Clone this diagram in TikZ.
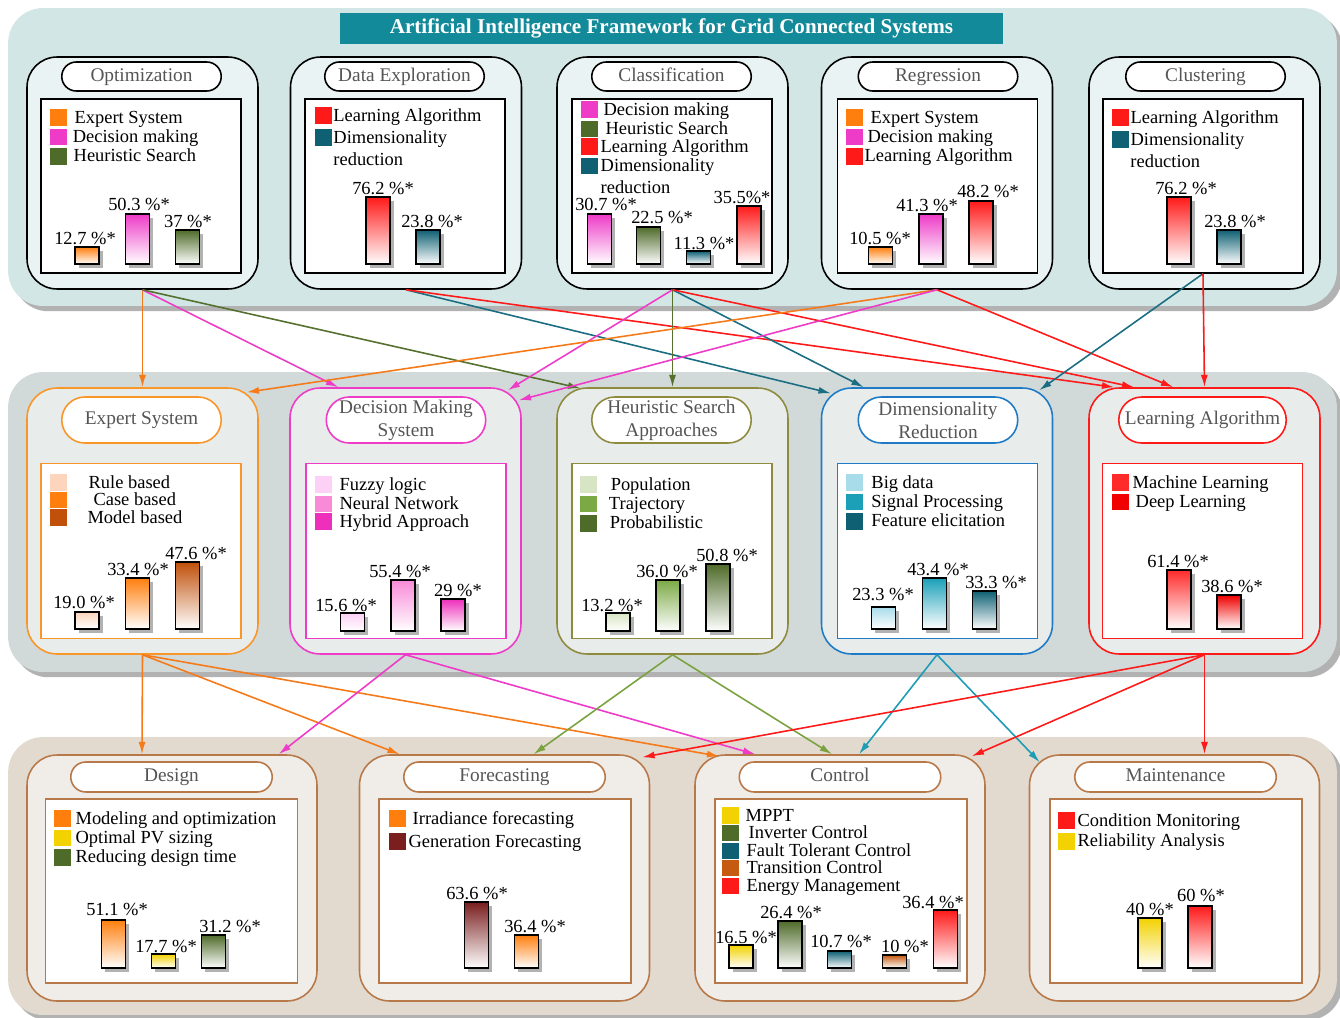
\documentclass[tikz,border=0pt]{standalone}
\usepackage{fontspec}
\setmainfont{Liberation Serif}
\usepackage{xcolor}
\usetikzlibrary{arrows.meta, shapes.misc, shadows}

% bands and boxes
\definecolor{topband}{HTML}{D3E6E6}
\definecolor{topbox}{HTML}{EAF3F3}
\definecolor{midband}{HTML}{D1DAD9}
\definecolor{midbox}{HTML}{E8ECEB}
\definecolor{botband}{HTML}{E3DACF}
\definecolor{botbox}{HTML}{F0ECE7}
\definecolor{ttlteal}{HTML}{138A99}
\definecolor{txtgray}{HTML}{555555}
\definecolor{brn}{HTML}{B8794A}
% series colours
\definecolor{orng}{HTML}{FF7F0E}
\definecolor{mgnt}{HTML}{EE3BC8}
\definecolor{hgrn}{HTML}{4F6B2A}
\definecolor{lred}{HTML}{FF1A1A}
\definecolor{dteal}{HTML}{0F6073}
\definecolor{rulec}{HTML}{FCD5BC}
\definecolor{modelc}{HTML}{C0500A}
\definecolor{fuzzyc}{HTML}{FDD0F5}
\definecolor{neuralc}{HTML}{F88AD8}
\definecolor{hybridc}{HTML}{EE2FBB}
\definecolor{popc}{HTML}{D8E5C5}
\definecolor{trajc}{HTML}{7BAA45}
\definecolor{bigc}{HTML}{A8DCEA}
\definecolor{sigc}{HTML}{1BA0B8}
\definecolor{mlc}{HTML}{FF2B2B}
\definecolor{dlc}{HTML}{F00000}
\definecolor{ylw}{HTML}{F2D200}
\definecolor{genc}{HTML}{7A1E1E}
\definecolor{transc}{HTML}{C55A11}
% borders and connectors
\definecolor{esb}{HTML}{F9962A}
\definecolor{hsb}{HTML}{8E8B3E}
\definecolor{drb}{HTML}{1F7BC6}
\definecolor{aorng}{HTML}{F57A1A}
\definecolor{aolive}{HTML}{56702E}
\definecolor{ateal}{HTML}{1B6E82}
\definecolor{agrn}{HTML}{7AA340}
\definecolor{ateal2}{HTML}{1C9DB5}

\newcommand{\swatch}[1]{\textcolor{#1}{\rule[-1.5pt]{9.3pt}{9.3pt}}}

\begin{document}
\begin{tikzpicture}[x=0.02cm, y=-0.02cm,
  font=\fontsize{10.5}{10}\selectfont,
  band/.style   = {rounded corners=0.7cm, minimum width=26.58cm,
                   drop shadow={shadow xshift=3pt, shadow yshift=-3pt, fill=black, opacity=0.3}},
  title/.style  = {fill=ttlteal, text=white, font=\bfseries\fontsize{12}{14}\selectfont,
                   minimum width=13.26cm, minimum height=0.62cm},
  grp/.style    = {draw=#1, line width=0.9pt, rounded corners=0.6cm},
  topgrp/.style = {grp=black, fill=topbox, minimum width=4.62cm, minimum height=4.64cm},
  midgrp/.style = {grp=#1, fill=midbox, minimum width=4.62cm, minimum height=5.32cm},
  botgrp/.style = {grp=brn, fill=botbox, minimum width=5.8cm, minimum height=4.92cm},
  pill/.style   = {draw=#1, line width=0.9pt, fill=white, rounded rectangle,
                   text=txtgray, align=center, inner sep=1pt,
                   font=\fontsize{11}{13}\selectfont},
  onepill/.style = {pill=#1, text height=7.6pt, text depth=2.4pt},
  inbox/.style  = {draw=#1, line width=0.8pt, fill=white},
  lgd/.style    = {anchor=north west, align=left, inner sep=0},
  bar/.style 2 args = {draw, line width=1pt, anchor=south, inner sep=0,
                   minimum width=0.48cm, minimum height=#2*0.02cm,
                   top color=#1, bottom color=white,
                   drop shadow={shadow xshift=2pt, shadow yshift=-2pt, fill=black, opacity=0.3}},
  val/.style    = {inner sep=0},
  arr/.style    = {draw=#1, line width=0.9pt, -{Latex[length=7pt, width=4pt]}}
]
\useasboundingbox (0,0) rectangle (1340,1018);

% three bands
\node[band, fill=topband, minimum height=5.96cm] (tband) at (672.5,157) {};
\node[band, fill=midband, minimum height=6.0cm]  (mband) at (672.5,522) {};
\node[band, fill=botband, minimum height=5.56cm] (bband) at (672.5,876) {};
\node[title] (ttl) at (671.5,28.5) {Artificial Intelligence Framework for Grid Connected Systems};

% ---- AI techniques
\node[topgrp] (opt) at (142.5,173) {};
\node[topgrp] (dex) at (406,173) {};
\node[topgrp] (cls) at (672.5,173) {};
\node[topgrp] (reg) at (937,173) {};
\node[topgrp] (clu) at (1204.5,173) {};
\node[onepill=black, minimum width=3.26cm, minimum height=0.58cm] (optp) at (141.5,76.5) {Optimization};
\node[onepill=black, minimum width=3.26cm, minimum height=0.58cm] (dexp) at (404.5,76.5) {Data Exploration};
\node[onepill=black, minimum width=3.26cm, minimum height=0.58cm] (clsp) at (671.5,76.5) {Classification};
\node[onepill=black, minimum width=3.26cm, minimum height=0.58cm] (regp) at (938,76.5) {Regression};
\node[onepill=black, minimum width=3.26cm, minimum height=0.58cm] (clup) at (1205.5,76.5) {Clustering};
\node[inbox=black, minimum width=4.0cm, minimum height=3.48cm] (opti) at (141,186) {};
\node[inbox=black, minimum width=4.0cm, minimum height=3.48cm] (dexi) at (405,186) {};
\node[inbox=black, minimum width=4.0cm, minimum height=3.48cm] (clsi) at (672,186) {};
\node[inbox=black, minimum width=4.0cm, minimum height=3.48cm] (regi) at (937.5,186) {};
\node[inbox=black, minimum width=4.0cm, minimum height=3.48cm] (clui) at (1203,186) {};

\node[lgd] (optl) at (50,109) {\swatch{orng}\hspace{4.5pt}Expert System\\
  \swatch{mgnt}\hspace{3.5pt}Decision making\\ \swatch{hgrn}\hspace{4pt}Heuristic Search};
\node[lgd] (dexl) at (315,107) {\swatch{lred}\hspace{1pt}Learning Algorithm\\[1.5pt]
  \swatch{dteal}\hspace{1pt}Dimensionality\\[2.5pt] \hspace*{10.3pt}reduction};
\node[lgd] (clsl) at (581,101) {\swatch{mgnt}\hspace{3.4pt}Decision making\\
  \swatch{hgrn}\hspace{4.5pt}Heuristic Search\\ \swatch{lred}\hspace{1.7pt}Learning Algorithm\\
  \swatch{dteal}\hspace{1.7pt}Dimensionality\\[2.5pt] \hspace*{11pt}reduction};
\node[lgd] (regl) at (846,109) {\swatch{orng}\hspace{4.5pt}Expert System\\
  \swatch{mgnt}\hspace{2.8pt}Decision making\\ \swatch{lred}\hspace{1.1pt}Learning Algorithm};
\node[lgd] (clul) at (1112,109) {\swatch{lred}\hspace{1.1pt}Learning Algorithm\\[1.5pt]
  \swatch{dteal}\hspace{1.1pt}Dimensionality\\[3pt] \hspace*{10.3pt}reduction};

\node[bar={orng}{17}]  (ob1) at (87,265) {};
\node[bar={mgnt}{50}]  (ob2) at (137.5,265) {};
\node[bar={hgrn}{34}]  (ob3) at (187.5,265) {};
\node[val] (ov1) at (85,238) {12.7 \%*};
\node[val] (ov2) at (139,204) {50.3 \%*};
\node[val] (ov3) at (188,221) {37 \%*};
\node[bar={lred}{67}]  (db1) at (378,265) {};
\node[bar={dteal}{34}] (db2) at (428,265) {};
\node[val] (dv1) at (383,188) {76.2 \%*};
\node[val] (dv2) at (432,221) {23.8 \%*};
\node[bar={mgnt}{50}]  (cb1) at (599.5,265) {};
\node[bar={hgrn}{37}]  (cb2) at (648.5,265) {};
\node[bar={dteal}{13}] (cb3) at (698.5,265) {};
\node[bar={lred}{58}]  (cb4) at (749,265) {};
\node[val] (cv1) at (606,204) {30.7 \%*};
\node[val] (cv2) at (662,217) {22.5 \%*};
\node[val] (cv3) at (704,243) {11.3 \%*};
\node[val] (cv4) at (742,197) {35.5\%*};
\node[bar={orng}{17}]  (rb1) at (880.5,265) {};
\node[bar={mgnt}{50}]  (rb2) at (931,265) {};
\node[bar={lred}{63}]  (rb3) at (981,265) {};
\node[val] (rv1) at (880,238) {10.5 \%*};
\node[val] (rv2) at (927,205) {41.3 \%*};
\node[val] (rv3) at (988,191) {48.2 \%*};
\node[bar={lred}{67}]  (ub1) at (1179,265) {};
\node[bar={dteal}{34}] (ub2) at (1229,265) {};
\node[val] (uv1) at (1186,188) {76.2 \%*};
\node[val] (uv2) at (1235,221) {23.8 \%*};

% ---- methods
\node[midgrp=esb]  (exs) at (142.5,521) {};
\node[midgrp=mgnt] (dms) at (405.5,521) {};
\node[midgrp=hsb]  (hsa) at (672.5,521) {};
\node[midgrp=drb]  (dmr) at (937,521) {};
\node[midgrp=lred] (lal) at (1204.5,521) {};
\node[onepill=esb, minimum width=3.26cm, minimum height=0.92cm] (exsp) at (141.5,420) {Expert System};
\node[pill=mgnt, minimum width=3.26cm, minimum height=0.92cm] (dmsp) at (406,420) {Decision Making\\System};
\node[pill=hsb,  minimum width=3.26cm, minimum height=0.92cm] (hsap) at (671.5,420) {Heuristic Search\\Approaches};
\node[pill=drb,  minimum width=3.26cm, minimum height=0.92cm] (dmrp) at (938,420) {Dimensionality\\Reduction};
\node[onepill=lred, minimum width=3.42cm, minimum height=0.92cm] (lalp) at (1202.5,420) {Learning Algorithm};
\node[inbox=esb,  minimum width=4.0cm, minimum height=3.5cm] (exsi) at (141,551) {};
\node[inbox=mgnt, minimum width=4.0cm, minimum height=3.5cm] (dmsi) at (406,551) {};
\node[inbox=hsb,  minimum width=4.0cm, minimum height=3.5cm] (hsai) at (672,551) {};
\node[inbox=drb,  minimum width=4.0cm, minimum height=3.5cm] (dmri) at (937.5,551) {};
\node[inbox=lred, minimum width=4.0cm, minimum height=3.5cm] (lali) at (1202.5,551) {};

\node[lgd] (exsl) at (50,474) {\swatch{rulec}\hspace{12.5pt}Rule based\\
  \swatch{orng}\hspace{15.3pt}Case based\\ \swatch{modelc}\hspace{11.9pt}Model based};
\node[lgd] (dmsl) at (315,476) {\swatch{fuzzyc}\hspace{4.5pt}Fuzzy logic\\
  \swatch{neuralc}\hspace{4.5pt}Neural Network\\ \swatch{hybridc}\hspace{4.5pt}Hybrid Approach};
\node[lgd] (hsal) at (580,476) {\swatch{popc}\hspace{8pt}Population\\
  \swatch{trajc}\hspace{7pt}Trajectory\\ \swatch{hgrn}\hspace{7.5pt}Probabilistic};
\node[lgd] (dmrl) at (846,474) {\swatch{bigc}\hspace{5pt}Big data\\
  \swatch{sigc}\hspace{5pt}Signal Processing\\ \swatch{dteal}\hspace{5pt}Feature elicitation};
\node[lgd] (lall) at (1112,474) {\swatch{mlc}\hspace{2.3pt}Machine Learning\\
  \swatch{dlc}\hspace{4pt}Deep Learning};

\node[bar={rulec}{17}]   (eb1) at (87,630) {};
\node[bar={orng}{51}]    (eb2) at (137.5,630) {};
\node[bar={modelc}{67}]  (eb3) at (187.5,630) {};
\node[val] (ev1) at (84,602) {19.0 \%*};
\node[val] (ev2) at (138,569) {33.4 \%*};
\node[val] (ev3) at (196,553) {47.6 \%*};
\node[bar={fuzzyc}{18}]  (mb1) at (352.5,632) {};
\node[bar={neuralc}{51}] (mb2) at (403,632) {};
\node[bar={hybridc}{32}] (mb3) at (453,632) {};
\node[val] (mv1) at (346,605) {15.6 \%*};
\node[val] (mv2) at (400,571) {55.4 \%*};
\node[val] (mv3) at (458,590) {29 \%*};
\node[bar={popc}{18}]    (hb1) at (618,632) {};
\node[bar={trajc}{51}]   (hb2) at (668,632) {};
\node[bar={hgrn}{67}]    (hb3) at (718,632) {};
\node[val] (hv1) at (612,605) {13.2 \%*};
\node[val] (hv2) at (667,571) {36.0 \%*};
\node[val] (hv3) at (727,555) {50.8 \%*};
\node[bar={bigc}{22}]    (xb1) at (883.5,630) {};
\node[bar={sigc}{51}]    (xb2) at (934.5,630) {};
\node[bar={dteal}{38}]   (xb3) at (984.5,630) {};
\node[val] (xv1) at (883,594) {23.3 \%*};
\node[val] (xv2) at (938,569) {43.4 \%*};
\node[val] (xv3) at (996,582) {33.3 \%*};
\node[bar={mlc}{59}]     (lb1) at (1179,630) {};
\node[bar={dlc}{34}]     (lb2) at (1229,630) {};
\node[val] (lv1) at (1178,561) {61.4 \%*};
\node[val] (lv2) at (1232,586) {38.6 \%*};

% ---- applications
\node[botgrp] (dsg) at (172,878) {};
\node[botgrp] (frc) at (504.5,878) {};
\node[botgrp] (ctl) at (840,878) {};
\node[botgrp] (mnt) at (1174.5,878) {};
\node[onepill=brn, minimum width=4.1cm, minimum height=0.6cm] (dsgp) at (171.5,777) {Design};
\node[onepill=brn, minimum width=4.1cm, minimum height=0.6cm] (frcp) at (504.5,777) {Forecasting};
\node[onepill=brn, minimum width=4.1cm, minimum height=0.6cm] (ctlp) at (840,777) {Control};
\node[onepill=brn, minimum width=4.1cm, minimum height=0.6cm] (mntp) at (1175.5,777) {Maintenance};
\node[inbox=brn, minimum width=5.04cm, minimum height=3.68cm] (dsgi) at (171.5,891) {};
\node[inbox=brn, minimum width=5.04cm, minimum height=3.68cm] (frci) at (505,891) {};
\node[inbox=brn, minimum width=5.04cm, minimum height=3.68cm] (ctli) at (841,891) {};
\node[inbox=brn, minimum width=5.04cm, minimum height=3.68cm] (mnti) at (1176,891) {};

\node[lgd] (dsgl) at (54,810) {\swatch{orng}\hspace{2.8pt}Modeling and optimization\\
  \swatch{ylw}\hspace{2.8pt}Optimal PV sizing\\ \swatch{hgrn}\hspace{2.8pt}Reducing design time};
\node[lgd] (frcl) at (389,810) {\swatch{orng}\hspace{4pt}Irradiance forecasting\\[2pt]
  \swatch{genc}\hspace{1.7pt}Generation Forecasting};
\node[lgd] (ctll) at (722,807) {\swatch{ylw}\hspace{4pt}MPPT\\
  \swatch{hgrn}\hspace{5.7pt}Inverter Control\\ \swatch{dteal}\hspace{4.5pt}Fault Tolerant Control\\
  \swatch{transc}\hspace{4.5pt}Transition Control\\ \swatch{lred}\hspace{4.5pt}Energy Management};
\node[lgd] (mntl) at (1058,812) {\swatch{lred}\hspace{1.7pt}Condition Monitoring\\[0.8pt]
  \swatch{ylw}\hspace{1.7pt}Reliability Analysis};

\node[bar={orng}{48}]   (gb1) at (113.5,969) {};
\node[bar={ylw}{14}]    (gb2) at (163.5,969) {};
\node[bar={hgrn}{33}]   (gb3) at (213.5,969) {};
\node[val] (gv1) at (117,909) {51.1 \%*};
\node[val] (gv2) at (166,946) {17.7 \%*};
\node[val] (gv3) at (230,926) {31.2 \%*};
\node[bar={genc}{66}]   (fb1) at (476.5,969) {};
\node[bar={orng}{33}]   (fb2) at (526.5,969) {};
\node[val] (fv1) at (477,893) {63.6 \%*};
\node[val] (fv2) at (535,926) {36.4 \%*};
\node[bar={ylw}{23}]    (kb1) at (741,969) {};
\node[bar={hgrn}{47}]   (kb2) at (790,969) {};
\node[bar={dteal}{17}]  (kb3) at (839.5,969) {};
\node[bar={transc}{13}] (kb4) at (894.5,969) {};
\node[bar={lred}{58}]   (kb5) at (945.5,969) {};
\node[val] (kv1) at (746,937) {16.5 \%*};
\node[val] (kv2) at (791,912) {26.4 \%*};
\node[val] (kv3) at (841,941) {10.7 \%*};
\node[val] (kv4) at (905,946) {10 \%*};
\node[val] (kv5) at (933,902) {36.4 \%*};
\node[bar={ylw}{50}]    (nb1) at (1150,969) {};
\node[bar={lred}{62}]   (nb2) at (1200,969) {};
\node[val] (nv1) at (1150,909) {40 \%*};
\node[val] (nv2) at (1201,895) {60 \%*};

% techniques -> methods
\draw[arr=aorng]  (opt.south) -- (exs.north);
\draw[arr=mgnt]   (opt.south) -- ([shift={(49,0)}]dms.north west);
\draw[arr=aolive] (opt.south) -- ([shift={(24,1)}]hsa.north west);
\draw[arr=ateal]  (dex.south) -- ([shift={(10,6)}]dmr.north west);
\draw[arr=lred]   (dex.south) -- ([shift={(26,0)}]lal.north west);
\draw[arr=mgnt]   (cls.south) -- ([shift={(-14,3)}]dms.north east);
\draw[arr=aolive] (cls.south) -- (hsa.north);
\draw[arr=ateal]  (cls.south) -- ([shift={(43,0)}]dmr.north west);
\draw[arr=lred]   (cls.south) -- ([shift={(46,0)}]lal.north west);
\draw[arr=aorng]  (reg.south) -- ([shift={(-12,5)}]exs.north east);
\draw[arr=mgnt]   (reg.south) -- ([shift={(-3,13)}]dms.north east);
\draw[arr=lred]   (reg.south) -- ([shift={(85,0)}]lal.north west);
\draw[arr=ateal]  (clui.south) -- ([shift={(-14,3)}]dmr.north east);
\draw[arr=lred]   (clui.south) -- (lal.north);

% methods -> applications
\draw[arr=aorng]  (exs.south) -- ([shift={(-30,0)}]dsg.north);
\draw[arr=aorng]  (exs.south) -- ([shift={(41,0)}]frc.north west);
\draw[arr=aorng]  (exs.south) -- ([shift={(25,2)}]ctl.north west);
\draw[arr=mgnt]   (dms.south) -- ([shift={(-39,0)}]dsg.north east);
\draw[arr=mgnt]   (dms.south) -- ([shift={(61,0)}]ctl.north west);
\draw[arr=agrn]   (hsa.south) -- ([shift={(29,0)}]frc.north);
\draw[arr=agrn]   (hsa.south) -- ([shift={(-8,0)}]ctl.north);
\draw[arr=ateal2] (dmr.south) -- ([shift={(19,0)}]ctl.north);
\draw[arr=ateal2] (dmr.south) -- ([shift={(11,8)}]mnt.north west);
\draw[arr=lred]   (lal.south) -- ([shift={(-8,3)}]frc.north east);
\draw[arr=lred]   (lal.south) -- ([shift={(-14,2)}]ctl.north east);
\draw[arr=lred]   (lal.south) -- ([shift={(30,0)}]mnt.north);
\end{tikzpicture}
\end{document}
